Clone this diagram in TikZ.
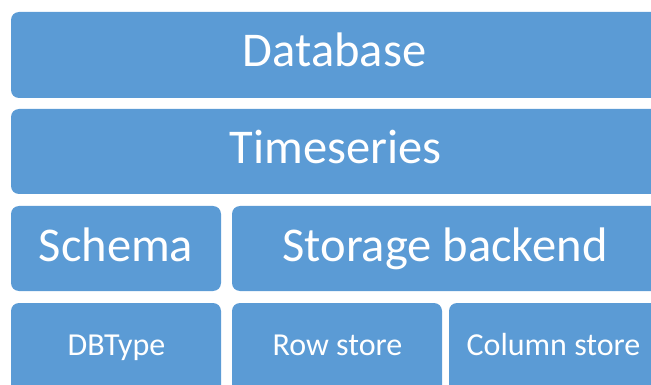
\documentclass[tikz,border=0pt]{standalone}
\usepackage{fontspec}
\setmainfont{Carlito}
\definecolor{tileblue}{HTML}{5B9BD5}
\tikzset{
  tile/.style={fill=tileblue, draw=none, rounded corners=8pt},
  big/.style={text=white, anchor=base, inner sep=0pt, font=\fontsize{48.5}{52}\selectfont},
  small/.style={text=white, anchor=base, inner sep=0pt, font=\fontsize{32}{35}\selectfont}
}
\begin{document}
\begin{tikzpicture}[x=1pt,y=-1pt]
  \useasboundingbox (0,0) rectangle (651,385);
  \clip (0,0) rectangle (651,385);
  % stack of layers, top to bottom
  \fill[tile] (11,12) rectangle (670,98);
  \fill[tile] (11,109) rectangle (670,194);
  \fill[tile] (11,206) rectangle (221,291);
  \fill[tile] (232,206) rectangle (670,291);
  \fill[tile] (11,303) rectangle (221,400);
  \fill[tile] (232,303) rectangle (442,400);
  \fill[tile] (449,303) rectangle (670,400);
  % labels (placed on their baselines)
  \node[big] (db) at (334.5,67) {Database};
  \node[big] (ts) at (335.5,164) {Timeseries};
  \node[big] (schema) at (116,261) {Schema};
  \node[big] (storage) at (445,261) {Storage backend};
  \node[small] (dbtype) at (116.5,355) {DBType};
  \node[small] (row) at (337.5,355) {Row store};
  \node[small] (col) at (553.5,355) {Column store};
\end{tikzpicture}
\end{document}
